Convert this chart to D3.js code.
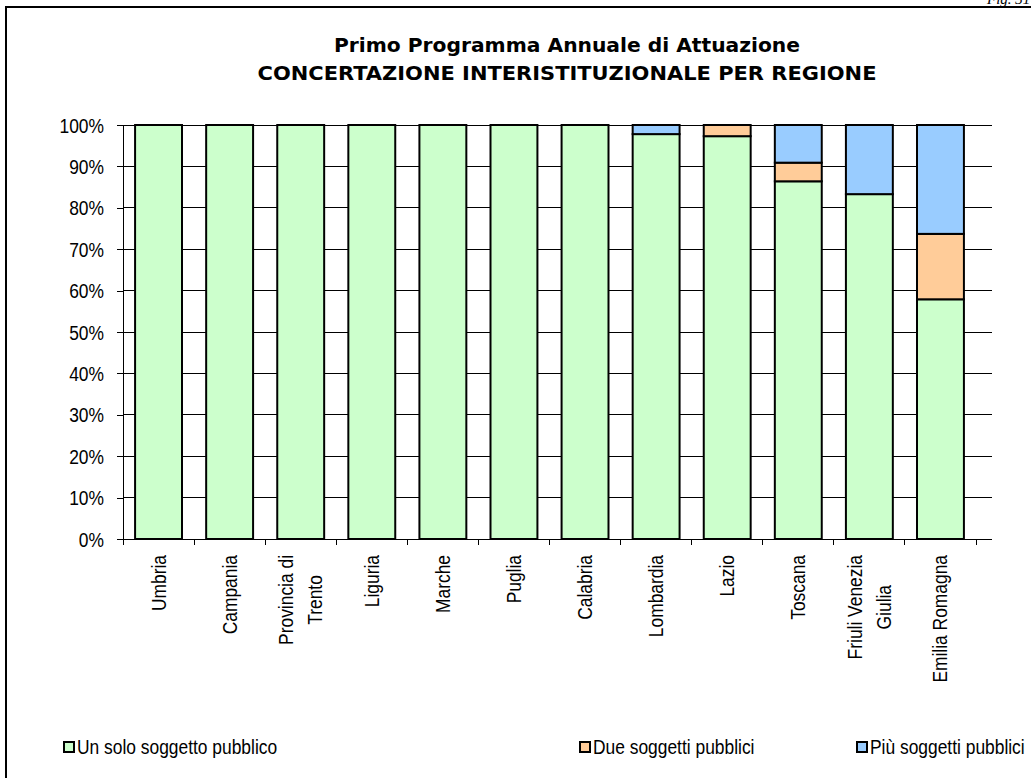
<!DOCTYPE html>
<html><head><meta charset="utf-8">
<script src="https://cdn.jsdelivr.net/npm/d3@7"></script>
<style>body{margin:0;background:#fff}svg{display:block}</style>
</head><body>
<svg id="c" width="1031" height="778"></svg>
<script>
const categories = ["Umbria","Campania","Provincia di Trento","Liguria","Marche","Puglia","Calabria","Lombardia","Lazio","Toscana","Friuli Venezia Giulia","Emilia Romagna"];
const categoryLines = [["Umbria"],["Campania"],["Provincia di","Trento"],["Liguria"],["Marche"],["Puglia"],["Calabria"],["Lombardia"],["Lazio"],["Toscana"],["Friuli Venezia","Giulia"],["Emilia Romagna"]];
const unSolo = [100,100,100,100,100,100,100,97.8,97.3,86.4,83.3,57.9];
const due    = [0,0,0,0,0,0,0,0,2.7,4.5,0,15.8];
const piu    = [0,0,0,0,0,0,0,2.2,0,9.1,16.7,26.3];
const seriesNames = ["Un solo soggetto pubblico","Due soggetti pubblici","Più soggetti pubblici"];
const seriesColors = ["#CCFFCC","#FFCC99","#99CCFF"];
const yTicks = [0,10,20,30,40,50,60,70,80,90,100];
const titleLines = ["Primo Programma Annuale di Attuazione","CONCERTAZIONE INTERISTITUZIONALE PER REGIONE"];
const figLabel = "Fig. 31";

const svg = d3.select("#c");
const L = 123, R = 976, RG = 992, T = 125, B = 539;
const SX = 0.87, FS = 20;

// frame
svg.append("rect").attr("x",6).attr("y",7).attr("width",1100).attr("height",900)
  .attr("fill","none").attr("stroke","#000").attr("stroke-width",2);
svg.append("text").attr("x",987).attr("y",4).text(figLabel)
  .attr("font-family","Liberation Serif").attr("font-style","italic").attr("font-size",15);

// title
const tw = [466, 619];
titleLines.forEach((t,i)=>{
  svg.append("text").attr("x",567).attr("y",52+i*28).attr("text-anchor","middle")
    .attr("font-family","DejaVu Sans").attr("font-weight","bold").attr("font-size",19)
    .attr("textLength",tw[i]).attr("lengthAdjust","spacingAndGlyphs").text(t);
});

const x = d3.scaleBand().domain(categories).range([L,R]).paddingInner(0.34).paddingOuter(0.17);
const y = d3.scaleLinear().domain([0,100]).range([B,T]);

// gridlines
svg.append("g").selectAll("line").data(yTicks.filter(d=>d>0)).join("line")
  .attr("x1",L).attr("x2",RG).attr("y1",d=>y(d)).attr("y2",d=>y(d))
  .attr("stroke","#000").attr("stroke-width",1).attr("shape-rendering","crispEdges");

// bars
const rows = categories.map((c,i)=>({cat:c, a:unSolo[i], b:due[i], p:piu[i]}));
const stack = d3.stack().keys(["a","b","p"])(rows);
svg.append("g").selectAll("g").data(stack).join("g")
  .attr("fill",(d,i)=>seriesColors[i])
  .selectAll("rect").data(d=>d.filter(v=>v[1]-v[0]>0)).join("rect")
  .attr("x",d=>x(d.data.cat)).attr("width",x.bandwidth())
  .attr("y",d=>y(d[1])).attr("height",d=>y(d[0])-y(d[1]))
  .attr("stroke","#000").attr("stroke-width",2);

// y axis
const ya = svg.append("g").attr("transform",`translate(${L},0)`)
  .call(d3.axisLeft(y).tickValues(yTicks).tickSize(6).tickFormat(""));
ya.selectAll("path,line").attr("stroke","#000").attr("shape-rendering","crispEdges");
yTicks.forEach(v=>{
  svg.append("text").attr("transform",`translate(104,${y(v)+7.5}) scale(${SX},1)`)
    .attr("text-anchor","end").attr("font-family","Liberation Sans").attr("font-size",FS)
    .text(v+"%");
});

// x axis
const bounds = categories.map(c=>x(c)-x.step()*x.paddingInner()/2).concat([R]);
svg.append("line").attr("x1",L).attr("x2",RG).attr("y1",B).attr("y2",B)
  .attr("stroke","#000").attr("shape-rendering","crispEdges");
svg.append("g").selectAll("line").data(bounds).join("line")
  .attr("x1",d=>d).attr("x2",d=>d).attr("y1",B).attr("y2",B+6)
  .attr("stroke","#000").attr("shape-rendering","crispEdges");

categoryLines.forEach((lines,i)=>{
  const cx = x(categories[i]) + x.bandwidth()/2;
  const g = svg.append("g").attr("transform",`translate(${cx},555) rotate(-90) scale(${SX},1)`);
  const ts = lines.map((t,j)=>g.append("text").attr("font-family","Liberation Sans").attr("font-size",FS)
    .attr("text-anchor","middle").attr("y",(j-(lines.length-1)/2)*29+7).text(t));
  const maxLen = d3.max(ts, t=>t.node().getComputedTextLength());
  ts.forEach(t=>t.attr("x",-maxLen/2));
});

// legend
const legX = [64,580,857];
seriesNames.forEach((n,i)=>{
  svg.append("rect").attr("x",legX[i]).attr("y",742).attr("width",10).attr("height",10)
    .attr("fill",seriesColors[i]).attr("stroke","#000").attr("stroke-width",2);
  svg.append("text").attr("transform",`translate(${legX[i]+13},754) scale(${SX},1)`)
    .attr("font-family","Liberation Sans").attr("font-size",FS).text(n);
});
</script>
</body></html>
